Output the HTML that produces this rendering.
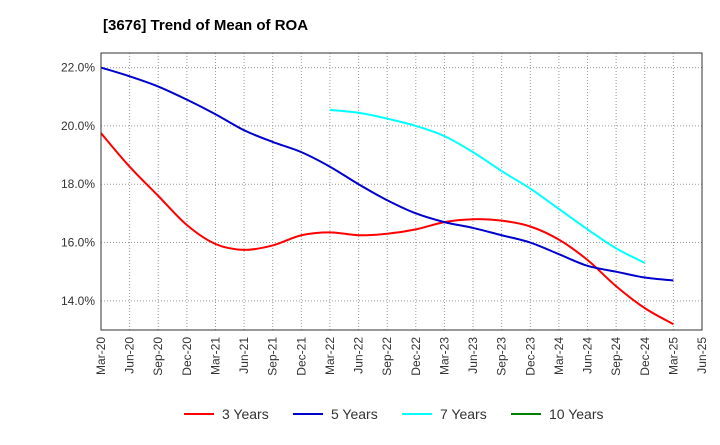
<!DOCTYPE html>
<html><head><meta charset="utf-8"><style>
body{margin:0;background:#fff;font-family:"Liberation Sans",sans-serif;}
</style></head><body>
<svg id="c" width="720" height="440" xmlns="http://www.w3.org/2000/svg">
<text x="103" y="30" font-size="15" font-weight="bold" fill="#000">[3676]  Trend of Mean of ROA</text>
<g id="grid"></g><g id="series"></g><g id="axes"></g><g id="legend"></g>
</svg>
<script>
const categories=["Mar-20","Jun-20","Sep-20","Dec-20","Mar-21","Jun-21","Sep-21","Dec-21","Mar-22","Jun-22","Sep-22","Dec-22","Mar-23","Jun-23","Sep-23","Dec-23","Mar-24","Jun-24","Sep-24","Dec-24","Mar-25","Jun-25"];
const yTicks=[14,16,18,20,22];
const s3=[19.75,18.6,17.6,16.6,15.95,15.75,15.9,16.25,16.35,16.25,16.3,16.45,16.7,16.8,16.75,16.55,16.1,15.4,14.5,13.75,13.2];
const s5=[22.0,21.7,21.35,20.9,20.4,19.85,19.45,19.1,18.6,18.0,17.45,17.0,16.7,16.5,16.25,16.0,15.6,15.2,15.0,14.8,14.7];
const s7=[null,null,null,null,null,null,null,null,20.55,20.45,20.25,20.0,19.65,19.1,18.45,17.85,17.15,16.45,15.8,15.3,null];
const s10=[];
const names=["3 Years","5 Years","7 Years","10 Years"];
const colors=["#ff0000","#0000cc","#00ffff","#008000"];
const L=101,R=702,T=53,B=330,yMin=13.0,yMax=22.5;
const xs=i=>L+i*(R-L)/(categories.length-1);
const ys=v=>B-(v-yMin)/(yMax-yMin)*(B-T);
const NS="http://www.w3.org/2000/svg";
function mk(t,a,p){const e=document.createElementNS(NS,t);for(const k in a)e.setAttribute(k,a[k]);p.appendChild(e);return e;}
const grid=document.getElementById('grid'),axes=document.getElementById('axes'),ser=document.getElementById('series'),leg=document.getElementById('legend');
categories.forEach((c,i)=>{const x=xs(i);
 const g=mk('line',{x1:x,x2:x,y1:T,y2:B,stroke:'#999','stroke-dasharray':'1,2'},grid);
 
 
 const t=mk('text',{x:0,y:0,'font-size':12,'text-anchor':'end',fill:'#333',transform:`translate(${x+4},${B+7}) rotate(-90)`},axes);
 t.textContent=c;
 
 });
yTicks.forEach(v=>{const y=ys(v);
 const g=mk('line',{x1:L,x2:R,y1:y,y2:y,stroke:'#999','stroke-dasharray':'1,2'},grid);
 
 
 const t=mk('text',{x:L-6,y:y+4,'font-size':12,'text-anchor':'end',fill:'#333'},axes);
 t.textContent=v.toFixed(1)+'%';
 
 });
const fr=mk('rect',{x:L,y:T,width:R-L,height:B-T,fill:'none',stroke:'#333'},axes);


function path(arr){const p=[];arr.forEach((v,i)=>{if(v!=null)p.push([xs(i),ys(v)]);});if(p.length<2)return '';
 let d=`M${p[0][0]},${p[0][1]}`;for(let i=0;i<p.length-1;i++){const p0=p[i-1]||p[i],p1=p[i],p2=p[i+1],p3=p[i+2]||p2;
 const c1=[p1[0]+(p2[0]-p0[0])/6,p1[1]+(p2[1]-p0[1])/6],c2=[p2[0]-(p3[0]-p1[0])/6,p2[1]-(p3[1]-p1[1])/6];
 d+=`C${c1[0]},${c1[1]} ${c2[0]},${c2[1]} ${p2[0]},${p2[1]}`;}return d;}
[s3,s5,s7,s10].forEach((s,k)=>{const d=path(s);if(d){const e=mk('path',{d:d,fill:'none',stroke:colors[k],'stroke-width':2},ser);
 
 }});
const lx=[184,293,402,511];
names.forEach((n,k)=>{const g=mk('g',{},leg);
 
 
 mk('line',{x1:lx[k],x2:lx[k]+30,y1:414,y2:414,stroke:colors[k],'stroke-width':2},g);
 const t=mk('text',{x:lx[k]+38,y:419,'font-size':14,fill:'#333'},g);t.textContent=n;});
</script>
</body></html>
